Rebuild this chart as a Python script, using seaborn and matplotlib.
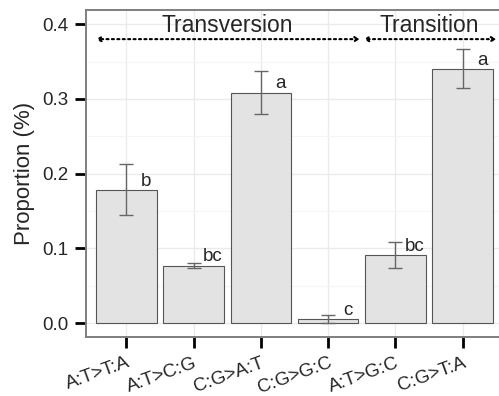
import numpy as np
import pandas as pd
import matplotlib
matplotlib.use('Agg')
import matplotlib.pyplot as plt
import seaborn as sns

# dados
mutacoes = ['A:T>T:A', 'A:T>C:G', 'C:G>A:T', 'C:G>G:C', 'A:T>G:C', 'C:G>T:A']
proporcao = [0.178, 0.077, 0.308, 0.005, 0.091, 0.340]
erro_sup = [0.213, 0.081, 0.337, 0.011, 0.109, 0.367]
erro_inf = [0.144, 0.074, 0.280, 0.000, 0.073, 0.314]
letras = ['b', 'bc', 'a', 'c', 'bc', 'a']

df = pd.DataFrame({'mut': mutacoes, 'prop': proporcao})

sns.set_style('white')
plt.rcParams['font.family'] = ['Liberation Sans', 'DejaVu Sans']

fig = plt.figure(figsize=(4.99, 3.96), dpi=100)
ax = fig.add_axes([86 / 499, 59 / 396, 417 / 499, 327 / 396])

sns.barplot(data=df, x='mut', y='prop', color='#e3e3e3', edgecolor='#555555',
            linewidth=0.8, width=0.9, saturation=1, errorbar=None, ax=ax, zorder=2)

pos = np.arange(len(mutacoes))
prop = np.array(proporcao)
ax.errorbar(pos, prop,
            yerr=[prop - np.array(erro_inf), np.array(erro_sup) - prop],
            fmt='none', ecolor='#666666', elinewidth=1.0, capsize=4.7, capthick=1.0, zorder=3)

for i, (v, l) in enumerate(zip(proporcao, letras)):
    ax.text(i + 0.29, v + 0.012, l, ha='center', va='center', fontsize=13.5)

# setas de grupo
ax.annotate('', xy=(-0.45, 0.38), xytext=(3.47, 0.38),
            arrowprops=dict(arrowstyle='<->,head_length=0.25,head_width=0.15',
                            linestyle=(0, (1, 1.6)), lw=1.5, color='black',
                            shrinkA=0, shrinkB=0))
ax.annotate('', xy=(3.53, 0.38), xytext=(5.5, 0.38),
            arrowprops=dict(arrowstyle='<->,head_length=0.25,head_width=0.15',
                            linestyle=(0, (1, 1.6)), lw=1.5, color='black',
                            shrinkA=0, shrinkB=0))
ax.text(1.5, 0.398, 'Transversion', ha='center', va='center', fontsize=16.5)
ax.text(4.5, 0.398, 'Transition', ha='center', va='center', fontsize=16.5)

ax.set_xlim(-0.6, 5.6)
ax.set_ylim(-0.0187, 0.419)
ax.set_yticks([0.0, 0.1, 0.2, 0.3, 0.4])
ax.set_yticklabels(['0.0', '0.1', '0.2', '0.3', '0.4'])
ax.set_yticks([0.05, 0.15, 0.25, 0.35], minor=True)

ax.grid(True, which='major', color='#ebebeb', lw=1.0, zorder=0)
ax.grid(True, which='minor', axis='y', color='#f5f5f5', lw=0.8, zorder=0)
ax.set_axisbelow(True)

for s in ax.spines.values():
    s.set_color('#7f7f7f')
    s.set_linewidth(1.4)

ax.tick_params(axis='both', which='major', length=8, width=2, color='black',
               labelsize=13.5, pad=4.5, left=True, bottom=True)
ax.tick_params(axis='y', which='minor', length=0)
plt.setp(ax.get_xticklabels(), rotation=20, ha='right', rotation_mode='anchor')

ax.set_xlabel('')
ax.set_ylabel('Proportion (%)', fontsize=16, labelpad=5)

fig.savefig('out.png', dpi=100)
